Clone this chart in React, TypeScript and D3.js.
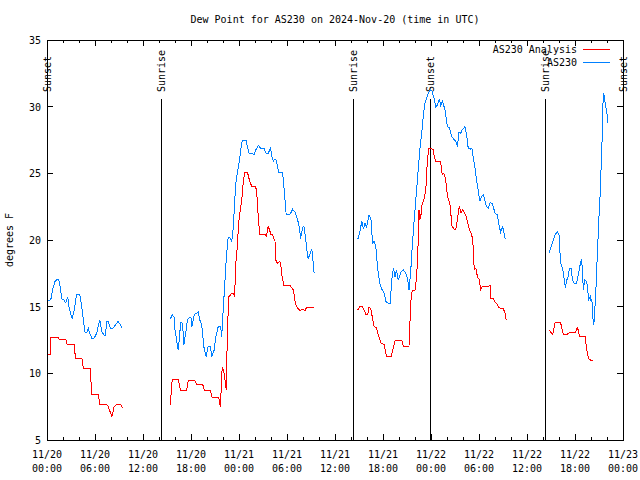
import React from 'react';
import * as d3 from 'd3';

const W = 640;
const H = 480;
const PLOT = { left: 47, right: 623, top: 40, bottom: 440 };
const START = Date.UTC(2024, 10, 20);
const HOUR = 3600 * 1000;
const FONT = '"DejaVu Sans Mono", monospace';

const title = 'Dew Point for AS230 on 2024-Nov-20 (time in UTC)';
const yTicks = [5, 10, 15, 20, 25, 30, 35];
const sunHours = [0, 14.25, 38.25, 47.9, 62.25, 72];
const sunLabels = ['Sunset', 'Sunrise', 'Sunrise', 'Sunset', 'Sunrise', 'Sunset'];

// [hours since 11/20 00:00 UTC, degrees F]
type Pt = [number, number];

const analysis1: Pt[] = [
  [0, 11.45], [0.4, 11.45], [0.5, 12.7], [1.4, 12.7], [1.5, 12.55], [2.35, 12.55],
  [2.5, 12.2], [3.4, 12.2], [3.55, 11.15], [4.35, 11.15], [4.55, 10.4], [5.4, 10.4],
  [5.6, 8.4], [6.4, 8.4], [6.6, 7.7], [7.45, 7.7], [7.65, 7.5], [7.9, 7.1],
  [8.1, 6.75], [8.4, 7.5], [8.8, 7.7], [9.2, 7.7], [9.45, 7.4],
];
const analysis2: Pt[] = [
  [15.4, 7.6], [15.65, 9.55], [16.4, 9.55], [16.7, 8.7], [17.45, 8.7], [17.65, 9.45],
  [18.5, 9.45], [18.7, 9.2], [19.45, 9.2], [19.65, 8.75], [20.4, 8.75], [20.65, 8.2],
  [21.4, 8.2], [21.55, 8.0], [21.65, 7.5], [21.75, 8.5], [21.9, 10.5], [22.05, 10.2],
  [22.15, 10.0], [22.3, 9.25], [22.4, 8.75], [22.45, 10.5], [22.6, 14.0], [22.75, 15.75],
  [23.1, 16.0], [23.3, 16.0], [23.45, 15.75], [23.6, 18.25], [23.8, 19.6], [23.95, 21.25],
  [24.1, 22.0], [24.35, 23.0], [24.55, 24.5], [24.75, 25.1], [25.05, 25.1], [25.3, 24.5],
  [25.6, 24.0], [26.1, 24.0], [26.3, 23.0], [26.4, 21.75], [26.6, 20.4], [27.25, 20.4],
  [27.45, 20.3], [27.65, 21.05], [27.9, 20.6], [28.0, 20.4], [28.2, 20.4], [28.5, 19.9],
  [28.6, 18.5], [28.8, 18.25], [29.05, 18.4], [29.2, 18.25], [29.35, 17.4], [29.6, 16.6],
  [30.4, 16.6], [30.6, 16.4], [30.8, 16.25], [31.0, 15.4], [31.2, 15.0], [31.6, 14.7],
  [31.95, 14.8], [32.25, 14.7], [32.45, 14.95], [33.4, 14.95],
];
const analysis3: Pt[] = [
  [38.85, 14.75], [39.1, 15.0], [39.4, 15.0], [39.65, 14.75], [39.85, 14.4], [40.1, 14.4],
  [40.25, 15.0], [40.5, 14.75], [40.7, 14.1], [40.9, 13.5], [41.2, 13.4], [41.4, 12.9],
  [41.75, 12.25], [42.15, 12.15], [42.45, 11.25], [43.0, 11.25], [43.3, 11.9], [43.5, 12.45],
  [44.35, 12.45], [44.55, 12.05], [45.25, 12.05], [45.4, 14.25], [45.5, 15.5], [45.65, 16.25],
  [46.0, 16.25], [46.2, 17.25], [46.35, 19.0], [46.5, 22.25], [46.6, 21.5], [46.75, 21.9],
  [46.9, 22.75], [47.1, 23.0], [47.35, 23.75], [47.55, 26.0], [47.75, 26.9], [48.0, 26.9],
  [48.3, 26.75], [48.4, 26.25], [48.6, 25.9], [49.2, 25.9], [49.4, 24.9], [49.6, 25.0],
  [49.85, 24.5], [49.95, 23.75], [50.15, 23.1], [50.4, 22.6], [50.6, 21.1], [50.9, 20.8],
  [51.1, 20.8], [51.35, 21.75], [51.55, 22.55], [51.75, 22.0], [51.95, 22.25], [52.15, 22.1],
  [52.4, 21.75], [52.6, 21.25], [52.8, 20.75], [53.1, 20.4], [53.3, 19.4], [53.4, 17.75],
  [53.6, 17.9], [53.8, 17.25], [54.05, 17.0], [54.2, 16.25], [54.4, 16.5], [55.15, 16.5],
  [55.4, 16.6], [55.5, 15.6], [55.8, 15.6], [56.0, 15.35], [56.2, 15.25], [56.4, 15.0],
  [56.7, 14.85], [57.05, 14.85], [57.25, 14.5], [57.4, 14.0],
];
const analysis4: Pt[] = [
  [62.8, 13.25], [63.2, 12.9], [63.5, 13.8], [64.2, 13.8], [64.55, 12.9], [64.95, 12.9],
  [65.4, 13.1], [66.1, 13.1], [66.3, 13.5], [66.55, 12.8], [67.25, 12.8], [67.45, 11.8],
  [67.7, 11.1], [67.95, 11.0], [68.3, 11.0],
];

const station1: Pt[] = [
  [0, 14.9], [0.05, 15.6], [0.25, 15.4], [0.5, 15.6], [0.75, 16.4], [1.0, 16.9],
  [1.3, 17.05], [1.45, 17.05], [1.7, 16.3], [1.85, 15.6], [2.1, 15.5], [2.3, 15.3],
  [2.4, 15.4], [2.6, 15.75], [2.75, 15.0], [3.0, 14.4], [3.15, 14.07], [3.4, 14.75],
  [3.7, 15.9], [4.1, 15.9], [4.35, 15.0], [4.55, 14.0], [4.75, 13.1], [5.0, 13.1],
  [5.15, 13.4], [5.35, 13.0], [5.6, 12.65], [5.9, 12.65], [6.2, 13.0], [6.6, 14.0],
  [6.85, 13.1], [7.25, 12.8], [7.5, 13.9], [7.65, 13.9], [7.9, 13.4], [8.25, 13.4],
  [8.9, 13.9], [9.4, 13.4],
];
const station2: Pt[] = [
  [15.4, 14.05], [15.65, 14.4], [15.9, 14.2], [16.0, 13.25], [16.2, 12.5], [16.4, 11.75],
  [16.55, 12.6], [16.7, 13.8], [16.95, 13.75], [17.1, 12.1], [17.4, 13.3], [17.55, 14.0],
  [17.8, 14.2], [18.0, 14.15], [18.1, 13.5], [18.4, 14.4], [18.9, 14.6], [19.1, 14.0],
  [19.35, 13.6], [19.6, 12.0], [19.9, 11.25], [20.15, 12.05], [20.4, 12.05], [20.6, 11.25],
  [20.9, 11.75], [21.1, 12.75], [21.4, 13.5], [21.7, 13.5], [21.85, 12.75], [21.9, 13.5],
  [22.1, 15.5], [22.25, 17.0], [22.4, 18.5], [22.6, 20.0], [22.75, 20.25], [23.0, 20.0],
  [23.1, 19.9], [23.3, 21.0], [23.4, 22.25], [23.6, 24.25], [23.8, 25.1], [24.05, 25.9],
  [24.2, 26.75], [24.4, 27.45], [24.9, 27.45], [25.05, 27.0], [25.25, 26.5], [25.6, 26.5],
  [25.9, 26.4], [26.1, 26.75], [26.4, 27.1], [26.7, 26.9], [27.1, 26.9], [27.4, 26.5],
  [27.65, 26.5], [27.95, 26.9], [28.1, 26.25], [28.3, 25.9], [28.5, 26.1], [28.7, 25.9],
  [28.95, 25.1], [29.45, 25.1], [29.6, 24.1], [29.75, 23.0], [29.9, 21.9], [30.4, 21.95],
  [30.7, 22.3], [31.0, 22.1], [31.3, 21.6], [31.55, 20.9], [31.7, 20.1], [31.95, 20.9],
  [32.1, 21.05], [32.3, 20.3], [32.45, 19.4], [32.65, 18.6], [32.9, 19.0], [33.1, 19.3],
  [33.2, 18.9], [33.3, 18.0], [33.4, 17.5],
];
const station3: Pt[] = [
  [38.85, 20.05], [39.1, 20.6], [39.35, 21.4], [39.55, 20.8], [39.75, 21.25], [39.95, 21.0],
  [40.25, 21.9], [40.5, 21.5], [40.7, 19.75], [40.9, 19.9], [41.1, 19.5], [41.35, 17.75],
  [41.6, 16.75], [41.9, 16.25], [42.15, 16.0], [42.35, 15.4], [42.65, 15.25], [42.9, 15.25],
  [43.1, 17.0], [43.3, 17.9], [43.5, 17.25], [43.7, 17.75], [43.9, 17.0], [44.25, 17.6],
  [44.55, 17.75], [44.85, 17.5], [45.1, 17.0], [45.25, 16.25], [45.45, 17.5], [45.65, 19.5],
  [45.9, 21.5], [46.2, 23.75], [46.4, 25.25], [46.6, 26.75], [46.85, 28.1], [47.05, 29.4],
  [47.25, 30.25], [47.6, 30.9], [47.9, 31.25], [48.1, 31.2], [48.4, 30.6], [48.6, 30.0],
  [48.8, 30.1], [49.05, 30.6], [49.2, 30.1], [49.45, 30.4], [49.75, 29.75], [50.05, 28.5],
  [50.3, 28.4], [50.6, 27.75], [50.8, 27.6], [51.1, 27.4], [51.3, 27.0], [51.5, 28.1],
  [51.7, 28.0], [51.9, 28.25], [52.25, 28.5], [52.45, 27.9], [52.65, 26.9], [52.9, 26.8],
  [53.1, 26.9], [53.3, 26.1], [53.5, 25.4], [53.7, 24.5], [53.9, 23.75], [54.1, 22.9],
  [54.35, 23.3], [54.55, 23.4], [54.75, 22.9], [54.95, 22.5], [55.15, 22.4], [55.4, 22.8],
  [55.7, 22.7], [56.0, 22.0], [56.3, 21.9], [56.5, 21.1], [56.7, 20.6], [56.95, 21.0],
  [57.1, 20.6], [57.3, 20.05],
];
const station4: Pt[] = [
  [62.8, 19.05], [63.0, 19.5], [63.2, 19.85], [63.5, 20.4], [63.8, 20.6], [64.0, 20.4],
  [64.2, 18.25], [64.45, 17.9], [64.6, 17.25], [64.8, 16.4], [64.95, 17.0], [65.1, 17.1],
  [65.3, 17.9], [65.5, 17.9], [65.7, 17.0], [65.9, 16.75], [66.2, 16.75], [66.45, 17.5],
  [66.6, 18.0], [66.8, 18.6], [66.9, 18.0], [67.05, 16.25], [67.2, 17.0], [67.4, 16.9],
  [67.55, 16.6], [67.7, 15.5], [67.9, 15.75], [68.0, 15.4], [68.1, 15.6], [68.25, 14.1],
  [68.35, 13.6], [68.45, 14.5], [68.6, 16.0], [68.7, 17.75], [68.85, 19.6], [68.95, 21.25],
  [69.1, 22.75], [69.2, 24.5], [69.35, 26.6], [69.45, 29.5], [69.55, 31.0], [69.65, 30.85],
  [69.8, 30.1], [69.95, 29.75], [70.1, 28.8],
];

const series = [
  { name: 'AS230 Analysis', color: '#ff0000', segments: [analysis1, analysis2, analysis3, analysis4] },
  { name: 'AS230', color: '#0080ff', segments: [station1, station2, station3, station4] },
];

const toDate = (h: number) => new Date(START + h * HOUR);

export default function App() {
  const x = d3
    .scaleUtc()
    .domain([toDate(0), toDate(72)])
    .range([PLOT.left, PLOT.right]);
  const y = d3.scaleLinear().domain([5, 35]).range([PLOT.bottom, PLOT.top]);

  const line = d3
    .line<Pt>()
    .x((d) => x(toDate(d[0])))
    .y((d) => y(d[1]));

  const majorTicks = x.ticks(d3.utcHour.every(6)!);
  const minorTicks = x.ticks(d3.utcHour.every(2)!);
  const fmtDay = d3.utcFormat('%m/%d');
  const fmtTime = d3.utcFormat('%H:%M');

  return (
    <svg
      width={W}
      height={H}
      style={{ position: 'absolute', left: 0, top: 0, background: '#fff' }}
      fontFamily={FONT}
      fontSize={10}
    >
      <rect width={W} height={H} fill="#fff" />
      <text x={(PLOT.left + PLOT.right) / 2} y={23} textAnchor="middle">
        {title}
      </text>

      {/* sunrise / sunset markers */}
      {sunHours.map((h, i) => {
        const sx = Math.min(x(toDate(h)), PLOT.right);
        return (
          <g key={'sun' + i}>
            <line x1={sx} x2={sx} y1={99} y2={PLOT.bottom} stroke="#000" shapeRendering="crispEdges" />
            <text
              transform={`translate(${sx + 3.5},92) rotate(-90)`}
              textAnchor="start"
            >
              {sunLabels[i]}
            </text>
          </g>
        );
      })}

      {/* data */}
      {series.map((s) =>
        s.segments.map((seg, i) => (
          <path
            key={s.name + i}
            d={line(seg) ?? ''}
            fill="none"
            stroke={s.color}
            strokeWidth={1}
            shapeRendering="crispEdges"
          />
        ))
      )}

      {/* frame */}
      <rect
        x={PLOT.left}
        y={PLOT.top}
        width={PLOT.right - PLOT.left}
        height={PLOT.bottom - PLOT.top}
        fill="none"
        stroke="#000"
        shapeRendering="crispEdges"
      />

      {/* y ticks */}
      {yTicks.map((t) => (
        <g key={'y' + t}>
          <line x1={PLOT.left} x2={PLOT.left + 6} y1={y(t)} y2={y(t)} stroke="#000" shapeRendering="crispEdges" />
          <line x1={PLOT.right - 6} x2={PLOT.right} y1={y(t)} y2={y(t)} stroke="#000" shapeRendering="crispEdges" />
          <text x={41} y={y(t) + 4} textAnchor="end">
            {t}
          </text>
        </g>
      ))}

      {/* x ticks */}
      {minorTicks.map((t, i) => (
        <g key={'xm' + i}>
          <line x1={x(t)} x2={x(t)} y1={PLOT.bottom} y2={PLOT.bottom - 3} stroke="#000" shapeRendering="crispEdges" />
          <line x1={x(t)} x2={x(t)} y1={PLOT.top} y2={PLOT.top + 3} stroke="#000" shapeRendering="crispEdges" />
        </g>
      ))}
      {majorTicks.map((t, i) => (
        <g key={'x' + i}>
          <line x1={x(t)} x2={x(t)} y1={PLOT.bottom} y2={PLOT.bottom - 6} stroke="#000" shapeRendering="crispEdges" />
          <line x1={x(t)} x2={x(t)} y1={PLOT.top} y2={PLOT.top + 6} stroke="#000" shapeRendering="crispEdges" />
          <text x={x(t)} y={458} textAnchor="middle">
            {fmtDay(t)}
          </text>
          <text x={x(t)} y={472} textAnchor="middle">
            {fmtTime(t)}
          </text>
        </g>
      ))}

      <text transform={`translate(13,${(PLOT.top + PLOT.bottom) / 2}) rotate(-90)`} textAnchor="middle">
        degrees F
      </text>

      {/* legend */}
      {series.map((s, i) => (
        <g key={'lg' + i}>
          <text x={577} y={53 + i * 13} textAnchor="end">
            {s.name}
          </text>
          <line x1={583} x2={610} y1={49 + i * 13} y2={49 + i * 13} stroke={s.color} shapeRendering="crispEdges" />
        </g>
      ))}
    </svg>
  );
}
